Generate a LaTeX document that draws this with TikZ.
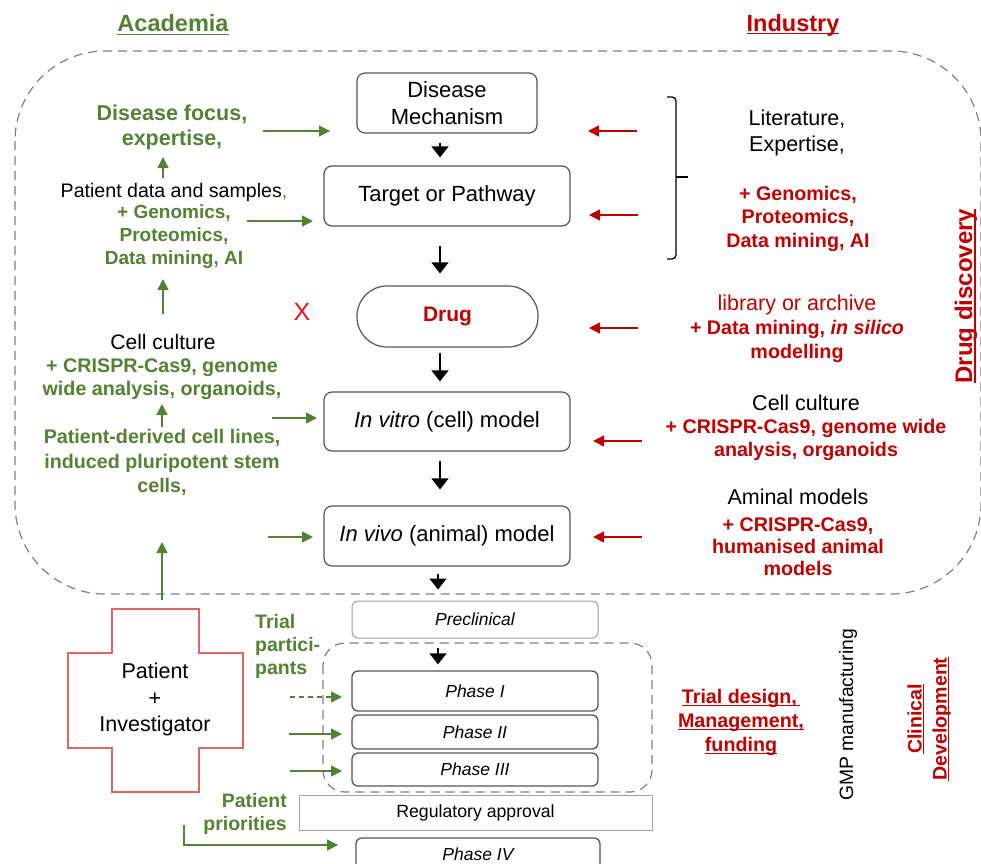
\documentclass[tikz,border=0pt]{standalone}
\usepackage{fontspec}
\setmainfont{Liberation Sans}
\usetikzlibrary{arrows.meta}
\definecolor{ag}{HTML}{548235}
\definecolor{ir}{HTML}{C00000}
\definecolor{xr}{HTML}{E8141A}
\definecolor{dg}{HTML}{808080}
\definecolor{bx}{HTML}{555555}
\definecolor{lbx}{HTML}{A0A0A0}
\definecolor{crs}{HTML}{E06666}
\newcommand{\fsz}[2]{\fontsize{#1}{#2}\selectfont}
\newcommand{\uln}[1]{{\setbox0\hbox{#1}\rlap{\rule[-0.14em]{\wd0}{0.065em}}\box0}}
\begin{document}
\begin{tikzpicture}[x=1pt,y=-1pt,
  txt/.style={inner sep=0pt, align=center},
  box/.style={draw=bx, line width=1.2pt, rounded corners=8pt, inner sep=0pt, align=center, font=\fsz{22}{27}},
  pbox/.style={draw=bx, line width=1.3pt, rounded corners=6pt, inner sep=0pt, align=center, font=\itshape\fsz{17.5}{21}},
  gA/.style={-{Triangle[width=11pt,length=11pt]}, draw=ag, line width=1.5pt},
  rA/.style={-{Triangle[width=11pt,length=11pt]}, draw=ir, line width=1.5pt},
  bA/.style={-{Triangle[width=17pt,length=11pt]}, draw=black, line width=1.3pt},
  gbold/.style={txt, font=\bfseries\fsz{19.5}{23.5}, text=ag},
  rbold/.style={txt, font=\bfseries\fsz{19.7}{23.5}, text=ir},
  norm/.style={txt, font=\fsz{21.5}{26}}
]
\clip (0,0) rectangle (981,863);
\fill[white] (0,0) rectangle (981,863);

% headings
\node[txt, font=\bfseries\fsz{23.5}{28}, text=ag] (acad) at (173,25) {\uln{Academia}};
\node[txt, font=\bfseries\fsz{23.5}{28}, text=ir] (ind) at (793,25) {\uln{Industry}};

% big dashed region
\draw[dg, line width=1.2pt, dash pattern=on 9pt off 6pt, rounded corners=90pt] (15,51) rectangle (981,594);

% central column
\node[box, minimum width=180pt, minimum height=60pt] (dm) at (447,103) {Disease\\Mechanism};
\node[box, minimum width=246pt, minimum height=60pt] (tp) at (447,196) {Target or Pathway};
\node[box, rounded corners=30pt, minimum width=181pt, minimum height=61pt, text=ir, font=\bfseries\fsz{21}{25}] (drug) at (447.5,316.5) {Drug};
\node[box, minimum width=246pt, minimum height=59pt] (vitro) at (447,421.5) {\textit{In vitro} (cell) model};
\node[box, minimum width=246pt, minimum height=60pt] (vivo) at (447,536) {\textit{In vivo} (animal) model};

\coordinate (axA) at (440,0);
\coordinate (axB) at (438,0);
\draw[bA, shorten <=9pt, shorten >=8pt] (dm.south -| axA) -- (tp.north -| axA);
\draw[bA, shorten <=19pt, shorten >=12pt] (tp.south -| axA) -- (drug.north -| axA);
\draw[bA, shorten <=5pt, shorten >=10pt] (drug.south -| axA) -- (vitro.north -| axA);
\draw[bA, shorten <=9pt, shorten >=16pt] (vitro.south -| axA) -- (vivo.north -| axA);

\node[txt, font=\fsz{25}{28}, text=xr] (xmark) at (302,312) {X};

% clinical column
\node[pbox, draw=lbx, line width=1pt, minimum width=246pt, minimum height=37pt] (pre) at (475,619.5) {Preclinical};
\draw[bA, shorten <=7pt, shorten >=11pt] (vivo.south -| axB) -- (pre.north -| axB);
\draw[dg, line width=1.2pt, dash pattern=on 9pt off 6pt, rounded corners=22pt] (323,643) rectangle (652,792);
\node[pbox, minimum width=246pt, minimum height=40pt] (p1) at (475,691) {Phase I};
\node[pbox, minimum width=246pt, minimum height=34pt] (p2) at (475,732) {Phase II};
\node[pbox, minimum width=246pt, minimum height=33pt] (p3) at (475,769.5) {Phase III};
\draw[bA, shorten <=9pt, shorten >=6pt] (pre.south -| axB) -- (p1.north -| axB);
\node[draw=lbx, line width=1pt, inner sep=0pt, minimum width=353pt, minimum height=35pt, font=\fsz{17.7}{21}] (reg) at (475.5,812.5) {Regulatory approval};
\node[pbox, minimum width=244pt, minimum height=32pt] (p4) at (478,854) {Phase IV};

% left academia texts
\node[txt, font=\bfseries\fsz{21.5}{25}, text=ag] (dfocus) at (172,127.5) {Disease focus,\\expertise,};
\node[txt, font=\fsz{19.6}{23}] (pdata) at (174,192) {Patient data and samples\textcolor{ag}{,}};
\node[gbold, font=\bfseries\fsz{19}{23}] (pgen) at (174,237) {+ Genomics,\\Proteomics,\\Data mining, AI};
\node[txt, font=\fsz{21}{25}] (lcc) at (163,342) {Cell culture};
\node[gbold, font=\bfseries\fsz{19.7}{23}] (lccg) at (162,379.5) {+ CRISPR-Cas9, genome\\wide analysis, organoids,};
\node[gbold, font=\bfseries\fsz{19.7}{24.5}] (pdc) at (162,462.5) {Patient-derived cell lines,\\induced pluripotent stem\\cells,};

\coordinate (gv1s) at (163,178); \coordinate (gv1e) at (163,157);
\draw[gA] (gv1s) -- (gv1e);
\coordinate (gv2s) at (163,314); \coordinate (gv2e) at (163,279);
\draw[gA] (gv2s) -- (gv2e);
\coordinate (gv3s) at (162,427); \coordinate (gv3e) at (162,404);
\draw[gA] (gv3s) -- (gv3e);

\coordinate (gh1s) at (263,131); \coordinate (gh1e) at (330,131);
\draw[gA] (gh1s) -- (gh1e);
\coordinate (gh2s) at (247,221); \coordinate (gh2e) at (313,221);
\draw[gA] (gh2s) -- (gh2e);
\coordinate (gh3s) at (272,418); \coordinate (gh3e) at (317,418);
\draw[gA] (gh3s) -- (gh3e);
\coordinate (gh4s) at (268,537); \coordinate (gh4e) at (313,537);
\draw[gA] (gh4s) -- (gh4e);

% right industry texts
\draw[black, line width=1.3pt, rounded corners=4pt] (667,97) -- (676,97) -- (676,259) -- (667,259);
\coordinate (brm) at (676,177); \coordinate (brt) at (688,177);
\draw[black, line width=1.3pt] (brm) -- (brt);
\node[norm] (lit) at (797,133) {Literature,\\Expertise,};
\node[rbold] (rgen) at (798,218.5) {+ Genomics,\\Proteomics,\\Data mining, AI};
\node[norm, text=ir] (lib) at (797,305) {library or archive};
\node[rbold] (libg) at (797,341.5) {+ Data mining, \textit{in silico}\\modelling};
\node[norm] (rcc) at (806,403) {Cell culture};
\node[rbold] (rccg) at (806,440) {+ CRISPR-Cas9, genome wide\\analysis, organoids};
\node[norm] (am) at (798,497) {Aminal models};
\node[rbold, font=\bfseries\fsz{19.7}{22}] (amg) at (798,546.5) {+ CRISPR-Cas9,\\humanised animal\\models};

\coordinate (rh1s) at (637,131); \coordinate (rh1e) at (588,131);
\draw[rA] (rh1s) -- (rh1e);
\coordinate (rh2s) at (638,215); \coordinate (rh2e) at (589,215);
\draw[rA] (rh2s) -- (rh2e);
\coordinate (rh3s) at (638,328); \coordinate (rh3e) at (589,328);
\draw[rA] (rh3s) -- (rh3e);
\coordinate (rh4s) at (642,441); \coordinate (rh4e) at (593,441);
\draw[rA] (rh4s) -- (rh4e);
\coordinate (rh5s) at (642,537); \coordinate (rh5e) at (593,537);
\draw[rA] (rh5s) -- (rh5e);

\node[txt, rotate=90, font=\bfseries\fsz{24}{28}, text=ir] (dd) at (966,296) {\uln{Drug discovery}};

% patient cross
\draw[crs, line width=1.2pt] (112,609) -- (199,609) -- (199,653) -- (243,653) -- (243,748) -- (199,748) -- (199,792) -- (112,792) -- (112,748) -- (68,748) -- (68,653) -- (112,653) -- cycle;
\node[txt, font=\fsz{21.5}{26.5}] (pinv) at (155,699.5) {Patient\\+\\Investigator};
\coordinate (crtop) at (162,600); \coordinate (crup) at (162,542);
\draw[gA] (crtop) -- (crup);

\node[gbold, align=left, anchor=west, font=\bfseries\fsz{19.5}{23}] (trialp) at (255,646) {Trial\\partici-\\pants};
\node[gbold, align=right, anchor=east, font=\bfseries\fsz{19.5}{23}] (ppri) at (287,813.5) {Patient\\priorities};

\coordinate (g1s) at (290,697); \coordinate (g1e) at (342,697);
\draw[gA, dash pattern=on 5pt off 4pt] (g1s) -- (g1e);
\coordinate (g2s) at (289,734); \coordinate (g2e) at (342,734);
\draw[gA] (g2s) -- (g2e);
\coordinate (g3s) at (290,771); \coordinate (g3e) at (342,771);
\draw[gA] (g3s) -- (g3e);
\coordinate (lcs) at (184,825); \coordinate (lcm) at (184,845); \coordinate (lce) at (338,845);
\draw[gA] (lcs) -- (lcm) -- (lce);

% right bottom labels
\node[rbold, font=\bfseries\fsz{19.7}{24}] (tdes) at (741,722) {\uln{Trial design,\,}\\\uln{Management,}\\\uln{funding}};
\node[txt, rotate=90, font=\fsz{19.3}{23}] (gmp) at (848,715) {GMP manufacturing};
\node[txt, rotate=90, font=\bfseries\fsz{19.6}{25}, text=ir] (clin) at (929,719) {\uln{Clinical}\\\uln{Development}};
\end{tikzpicture}
\end{document}
